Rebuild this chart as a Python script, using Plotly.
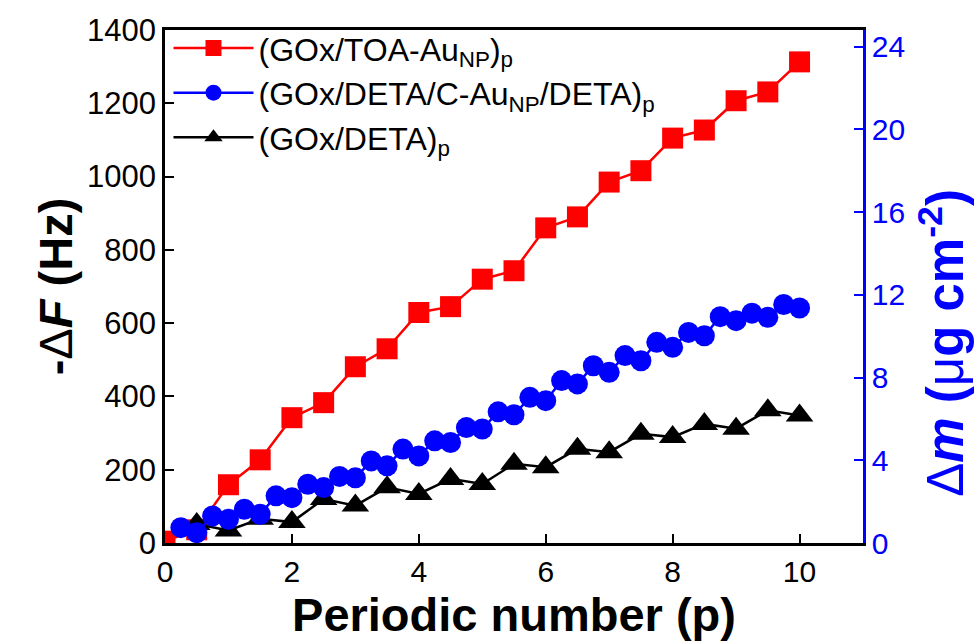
import plotly.graph_objects as go

# Periodic number p for each deposition series
p_toa = [0, 0.5, 1, 1.5, 2, 2.5, 3, 3.5, 4, 4.5, 5, 5.5, 6, 6.5, 7, 7.5, 8, 8.5, 9, 9.5, 10]
p_deta = [0.5, 1, 1.5, 2, 2.5, 3, 3.5, 4, 4.5, 5, 5.5, 6, 6.5, 7, 7.5, 8, 8.5, 9, 9.5, 10]
p_cau = [0.25, 0.5, 0.75, 1, 1.25, 1.5, 1.75, 2, 2.25, 2.5, 2.75, 3, 3.25, 3.5, 3.75, 4,
         4.25, 4.5, 4.75, 5, 5.25, 5.5, 5.75, 6, 6.25, 6.5, 6.75, 7, 7.25, 7.5, 7.75, 8,
         8.25, 8.5, 8.75, 9, 9.25, 9.5, 9.75, 10]

# -dF (Hz) for (GOx/TOA-AuNP)p
df_toa = [5, 36, 159, 227, 342, 383, 481, 530, 629, 645, 720, 743, 860, 890, 985, 1016,
          1105, 1127, 1207, 1231, 1313]
# -dF (Hz) for (GOx/DETA)p
df_deta = [52, 34, 66, 57, 120, 102, 152, 134, 175, 161, 216, 207, 257, 248, 298, 289,
           325, 312, 362, 348]
# dm (ug cm-2) for (GOx/DETA/C-AuNP/DETA)p
dm_cau = [0.74, 0.50, 1.31, 1.15, 1.63, 1.39, 2.28, 2.19, 2.84, 2.68, 3.22, 3.15, 3.97,
          3.73, 4.54, 4.21, 4.94, 4.86, 5.58, 5.51, 6.34, 6.20, 7.04, 6.88, 7.85, 7.69,
          8.57, 8.25, 9.06, 8.81, 9.70, 9.46, 10.18, 10.02, 10.94, 10.75, 11.11, 10.91,
          11.53, 11.36]

x_ticks = [0, 2, 4, 6, 8, 10]
yl_ticks = [0, 200, 400, 600, 800, 1000, 1200, 1400]
yr_ticks = [0, 4, 8, 12, 16, 20, 24]

FONT = "Liberation Sans, Arial, sans-serif"
BLUE = "#0000FF"
RED = "#FF0000"

fig = go.Figure()
fig.add_trace(go.Scatter(
    x=p_toa, y=df_toa, mode="lines+markers",
    name="(GOx/TOA-Au<sub>NP</sub>)<sub>p</sub>",
    line=dict(color=RED, width=2.5),
    marker=dict(symbol="square", size=21, color=RED),
))
fig.add_trace(go.Scatter(
    x=p_cau, y=dm_cau, mode="lines+markers", yaxis="y2",
    name="(GOx/DETA/C-Au<sub>NP</sub>/DETA)<sub>p</sub>",
    line=dict(color=BLUE, width=2.5),
    marker=dict(symbol="circle", size=21, color=BLUE),
))
fig.add_trace(go.Scatter(
    x=p_deta, y=df_deta, mode="lines+markers",
    name="(GOx/DETA)<sub>p</sub>",
    line=dict(color="black", width=2.5),
    marker=dict(symbol="triangle-up", size=24, color="black"),
))

axis_common = dict(
    showgrid=False, zeroline=False, showline=True, linewidth=2.5,
    ticks="inside", ticklen=9, tickwidth=2,
)

fig.update_layout(
    width=979, height=644,
    margin=dict(l=165, r=116, t=30, b=101),
    paper_bgcolor="white", plot_bgcolor="white",
    font=dict(family=FONT, size=30, color="black"),
    xaxis=dict(
        **axis_common, linecolor="black", tickcolor="black", mirror=True,
        range=[0, 11], tickvals=x_ticks,
        tickfont=dict(size=30),
        title=dict(text="<b>Periodic number (p)</b>", font=dict(size=47), standoff=0),
    ),
    yaxis=dict(
        **axis_common, linecolor="black", tickcolor="black",
        range=[0, 1400], tickvals=yl_ticks,
        tickfont=dict(size=31),
        title=dict(text="<b>-</b>Δ<b><i>F</i> (Hz)</b>", font=dict(size=47), standoff=0),
    ),
    yaxis2=dict(
        **axis_common, linecolor=BLUE, tickcolor=BLUE,
        overlaying="y", side="right",
        range=[0, 24.8], tickvals=yr_ticks,
        tickfont=dict(size=30, color=BLUE),
    ),
    legend=dict(
        x=0.005, y=1.018, xanchor="left", yanchor="top",
        bgcolor="rgba(0,0,0,0)", font=dict(size=32),
        itemwidth=80, tracegroupgap=0,
    ),
    showlegend=True,
    annotations=[dict(
        text="Δ<b><i>m</i> (</b>μ<b>g cm<sup>-2</sup>)</b>",
        textangle=-90, xref="paper", yref="paper", x=1.113, y=0.39,
        xanchor="center", yanchor="middle", showarrow=False,
        font=dict(size=51, color=BLUE),
    )],
)

fig.write_html("out.html")
